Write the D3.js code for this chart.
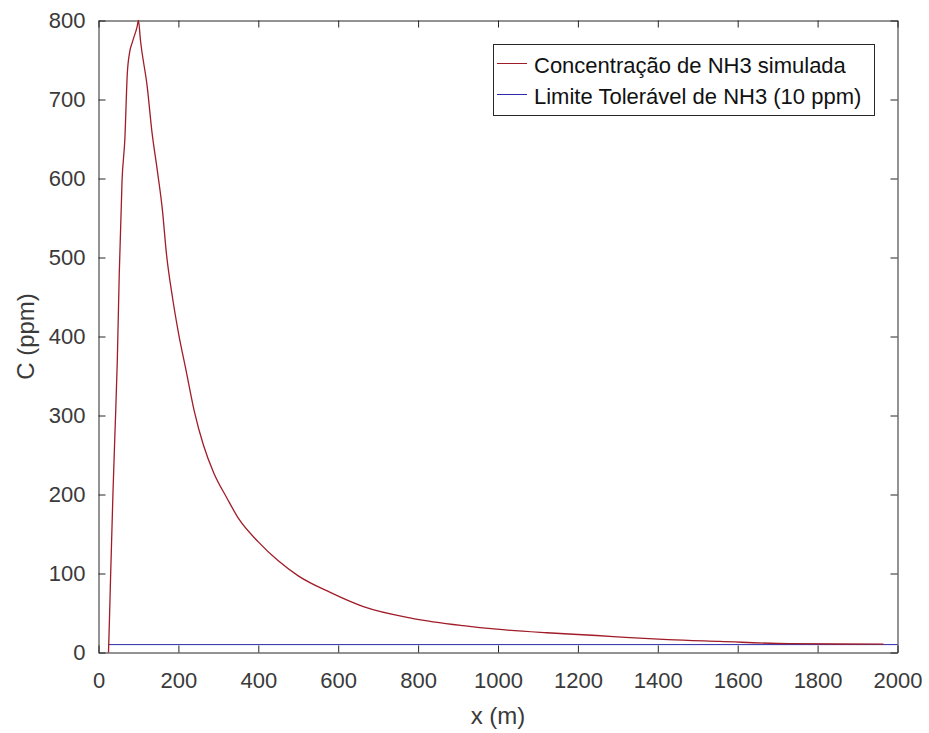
<!DOCTYPE html>
<html>
<head>
<meta charset="utf-8">
<script src="https://cdn.jsdelivr.net/npm/d3@7"></script>
<style>
  body { margin: 0; background: #fff; }
  svg { display: block; }
  text { font-family: "Liberation Sans", Arial, sans-serif; }
</style>
</head>
<body>
<svg width="929" height="733"></svg>
<script>
// simulated NH3 concentration
const DIST = [25, 27, 30, 36, 41, 47, 52, 59, 66, 72, 78, 85, 97, 100, 105, 122, 134, 147, 160, 170, 185, 200, 220, 240, 263, 288, 322, 350, 400, 450, 500, 580, 663, 788, 913, 997, 1122, 1247, 1330, 1426, 1555, 1730, 1965]
const CONC = [0, 34, 91, 198, 275, 368, 480, 598, 650, 732, 760, 773, 793, 800, 775, 716, 658, 611, 560, 505, 450, 405, 355, 305, 262, 228, 195, 170, 140, 116, 97, 76, 58, 43, 34, 29.5, 25, 21.5, 18.8, 16.2, 14, 11.2, 10.6]

// tolerable limit line
const LIMIT_X = [25, 2000]
const LIMIT_C = [10, 10]

const X_TICKS = [0, 200, 400, 600, 800, 1000, 1200, 1400, 1600, 1800, 2000]
const Y_TICKS = [0, 100, 200, 300, 400, 500, 600, 700, 800]
const LEGEND_LABELS = ['Concentração de NH3 simulada', 'Limite Tolerável de NH3 (10 ppm)']

const plotLeft = 98.5, plotRight = 897.5, plotTop = 20.5, plotBottom = 652.5;
const axisColor = '#262626';

const xScale = d3.scaleLinear().domain([0, 2000]).range([plotLeft, plotRight]);
const yScale = d3.scaleLinear().domain([0, 800]).range([plotBottom, plotTop]);

const svg = d3.select('svg');

const styleAxis = (g) => {
    g.selectAll('path, line').attr('stroke', axisColor).attr('stroke-width', 1);
    g.selectAll('text').attr('fill', '#3a3a3a').style('font-size', '22px');
};

// bottom / left with labels, top / right only ticks (box on)
svg.append('g')
    .attr('transform', `translate(0,${plotBottom})`)
    .call(d3.axisBottom(xScale).tickValues(X_TICKS).tickFormat(d3.format('d')).tickSizeInner(-7).tickSizeOuter(0).tickPadding(20))
    .call(styleAxis);

svg.append('g')
    .attr('transform', `translate(0,${plotTop})`)
    .call(d3.axisTop(xScale).tickValues(X_TICKS).tickFormat('').tickSizeInner(-7).tickSizeOuter(0))
    .call(styleAxis);

svg.append('g')
    .attr('transform', `translate(${plotLeft},0)`)
    .call(d3.axisLeft(yScale).tickValues(Y_TICKS).tickFormat(d3.format('d')).tickSizeInner(-7).tickSizeOuter(0).tickPadding(13))
    .call(styleAxis);

svg.append('g')
    .attr('transform', `translate(${plotRight},0)`)
    .call(d3.axisRight(yScale).tickValues(Y_TICKS).tickFormat('').tickSizeInner(-7).tickSizeOuter(0))
    .call(styleAxis);

const line = d3.line()
    .x(d => xScale(d[0]))
    .y(d => yScale(d[1]));

svg.append('path')
    .datum(LIMIT_X.map((x, i) => [x, LIMIT_C[i]]))
    .attr('d', line)
    .attr('fill', 'none')
    .attr('stroke', '#2b2ba8')
    .attr('stroke-width', 1);

svg.append('path')
    .datum(DIST.map((x, i) => [x, CONC[i]]))
    .attr('d', line.curve(d3.curveMonotoneX))
    .attr('fill', 'none')
    .attr('stroke', '#a01c28')
    .attr('stroke-width', 1.3);

// axis labels
svg.append('text')
    .attr('x', (plotLeft + plotRight) / 2)
    .attr('y', 724)
    .attr('text-anchor', 'middle')
    .attr('fill', '#3a3a3a')
    .style('font-size', '24px')
    .text('x (m)');

svg.append('text')
    .attr('transform', `translate(34,${(plotTop + plotBottom) / 2}) rotate(-90)`)
    .attr('text-anchor', 'middle')
    .attr('fill', '#3a3a3a')
    .style('font-size', '24px')
    .text('C (ppm)');

// legend
const legend = svg.append('g');
legend.append('rect')
    .attr('x', 493.5).attr('y', 44.5)
    .attr('width', 381).attr('height', 71)
    .attr('fill', '#fff')
    .attr('stroke', axisColor);

const legendColors = ['#a01c28', '#2b2ba8'];
legend.selectAll('.item')
    .data(LEGEND_LABELS)
    .enter()
    .append('g')
    .classed('item', true)
    .attr('transform', (d, i) => `translate(0,${63.5 + i * 31})`)
    .each(function (d, i) {
        const g = d3.select(this);
        g.append('line')
            .attr('x1', 497).attr('x2', 527)
            .attr('stroke', legendColors[i]);
        g.append('text')
            .attr('x', 534)
            .attr('y', 9)
            .attr('fill', '#111')
            .style('font-size', '22px')
            .text(d);
    });
</script>
</body>
</html>
